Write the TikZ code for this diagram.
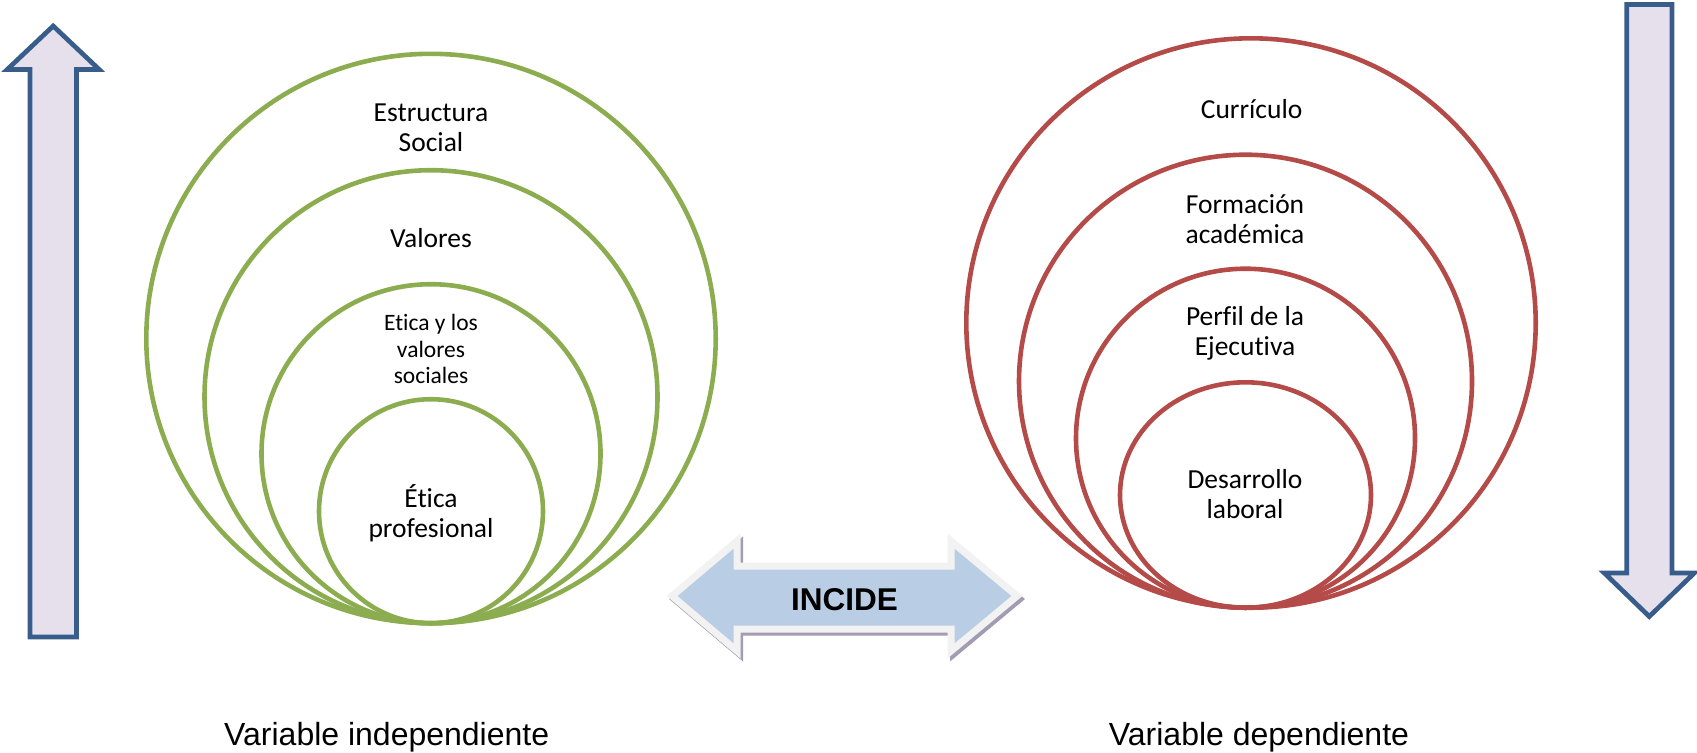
\documentclass[tikz,border=0pt]{standalone}
\usepackage{fontspec}
\setmainfont{Carlito}[Ligatures=NoCommon]
\newfontfamily\arialfont{Liberation Sans}
\usetikzlibrary{shapes.geometric}

\definecolor{ringgreen}{RGB}{140,172,80}
\definecolor{ringred}{RGB}{180,75,72}
\definecolor{arrowblue}{RGB}{56,93,138}
\definecolor{arrowfill}{RGB}{229,224,236}
\definecolor{incfill}{RGB}{185,205,229}
\definecolor{incborder}{RGB}{242,242,242}
\definecolor{incshadow}{RGB}{162,156,178}

\begin{document}
\begin{tikzpicture}[x=0.5pt, y=-0.5pt,
        ring/.style={circle, draw, line width=2.3pt, inner sep=0pt,
            outer sep=0pt, anchor=south},
        green ring/.style={ring, draw=ringgreen},
        red ring/.style={ring, draw=ringred},
        ringtext/.style={align=center, font=\fontsize{13.75}{15}\selectfont},
        smalltext/.style={align=center, font=\fontsize{11.75}{13.25}\selectfont},
        bigarrow/.style={draw=arrowblue, fill=arrowfill, line width=2.35pt},
        vartext/.style={anchor=base, font=\arialfont\fontsize{16}{18}\selectfont}]
        \useasboundingbox (0,0) rectangle (1697,752);

        % up and down arrows
        \draw[bigarrow] (30,637) -- (30,69.5) -- (7.2,69.5) -- (53.2,26)
            -- (99.2,69.5) -- (76.5,69.5) -- (76.5,637) -- cycle;
        \draw[bigarrow] (1626.7,4.5) -- (1672,4.5) -- (1672,573) -- (1694.3,573)
            -- (1649.3,616.5) -- (1604.3,573) -- (1626.7,573) -- cycle;

        % independent variable
        \coordinate (gbase) at (431,623.2);
        \node[green ring, minimum size=284.7pt] (g1) at (gbase) {};
        \node[green ring, minimum size=226.5pt] (g2) at (gbase) {};
        \node[green ring, minimum size=169.5pt] (g3) at (gbase) {};
        \node[green ring, minimum size=112pt] (g4) at (gbase) {};

        \node[ringtext] (tg1) at (431,127.6) {Estructura\\Social};
        \node[ringtext] (tg2) at (431,238.5) {Valores};
        \node[smalltext] (tg3) at (431,349) {Etica y los\\valores\\sociales};
        \node[ringtext] (tg4) at (431,513.6) {Ética\\profesional};

        % dependent variable
        \coordinate (rbase) at (1245.5,607.7);
        \node[red ring, minimum size=284.7pt] (r1) at (1251,607.7) {};
        \node[red ring, minimum size=226.5pt] (r2) at (rbase) {};
        \node[red ring, minimum size=169.5pt] (r3) at (rbase) {};
        \node[red ring, ellipse, minimum width=125.5pt, minimum height=112.7pt] (r4) at (rbase) {};

        \node[ringtext] (tr1) at (1251.6,108.9) {Currículo};
        \node[ringtext] (tr2) at (1245,219.3) {Formación\\académica};
        \node[ringtext] (tr3) at (1245,333) {Perfil de la\\Ejecutiva};
        \node[ringtext] (tr4) at (1245,494) {Desarrollo\\laboral};

        % incide
        \draw[incshadow, fill=incshadow, line width=3.5pt, shift={(2.5,3)}]
            (672,596) -- (737,541) -- (737,566) -- (951,566) -- (951,541)
            -- (1017,596) -- (951,651) -- (951,629) -- (737,629) -- (737,651) -- cycle;
        \draw[draw=incborder, fill=incfill, line width=3.5pt]
            (672,596) -- (737,541) -- (737,566) -- (951,566) -- (951,541)
            -- (1017,596) -- (951,651) -- (951,629) -- (737,629) -- (737,651) -- cycle;
        \node[anchor=base, font=\arialfont\bfseries\fontsize{15.75}{18}\selectfont]
            (incide) at (844.5,610) {INCIDE};

        \node[vartext] (vind) at (386.7,745) {Variable independiente};
        \node[vartext] (vdep) at (1259,745) {Variable dependiente};
    \end{tikzpicture}
\end{document}
